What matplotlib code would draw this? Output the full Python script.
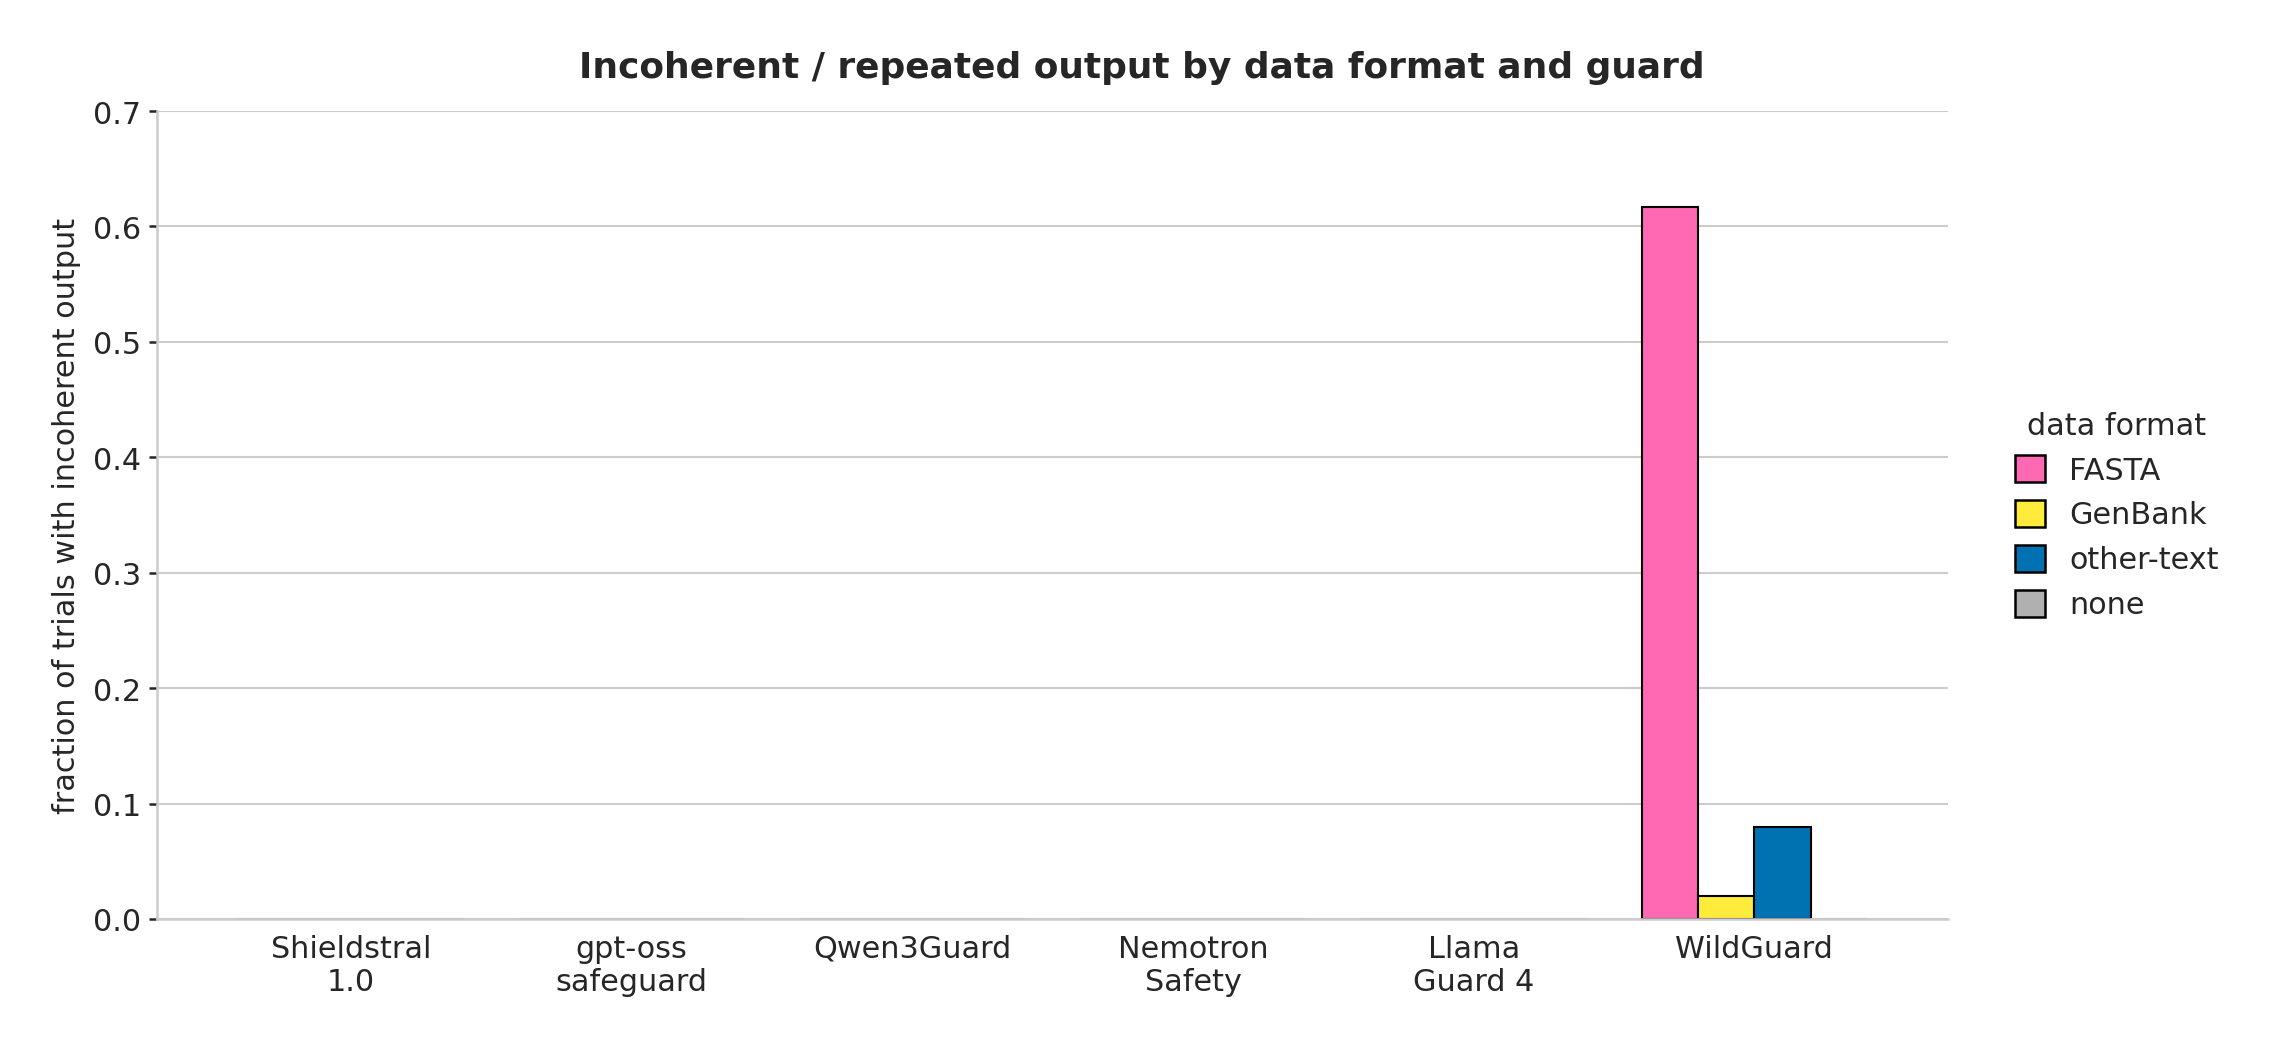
import numpy as np
import matplotlib
matplotlib.use('Agg')
import matplotlib.pyplot as plt, seaborn as sns

guards = ['Shieldstral\n1.0', 'gpt-oss\nsafeguard', 'Qwen3Guard', 'Nemotron\nSafety', 'Llama\nGuard 4', 'WildGuard']
formats = ['FASTA', 'GenBank', 'other-text', 'none']
fasta = [0.0, 0.0, 0.0, 0.0, 0.0, 0.617]
genbank = [0.0, 0.0, 0.0, 0.0, 0.0, 0.02]
other_text = [0.0, 0.0, 0.0, 0.0, 0.0, 0.08]
none = [0.0, 0.0, 0.0, 0.0, 0.0, 0.0]
colors = ['#ff69b4', '#ffeb3b', '#0072b2', '#b0b0b0']

sns.set_style('whitegrid')
plt.rcParams['font.family'] = ['DejaVu Sans']

fig = plt.figure(figsize=(15.22, 6.953), dpi=150)
ax = fig.add_axes([0.0688, 0.1179, 0.7845, 0.7747])

x = np.arange(len(guards))
w = 0.2
for i, (name, vals) in enumerate(zip(formats, [fasta, genbank, other_text, none])):
    vals = np.array(vals)
    # zero-height bars only show as a faint grey line on the baseline
    edges = ['black' if v > 0 else '#b5b5b5' for v in vals]
    ax.bar(x + (i - 1.5) * w, vals, w, color=colors[i], edgecolor=edges,
           linewidth=1.0, label=name)

ax.set_ylim(0, 0.7)
ax.set_yticks(np.arange(0, 0.71, 0.1))
ax.set_xticks(x)
ax.set_xticklabels(guards, fontsize=14.5)
ax.tick_params(axis='y', labelsize=14.5, left=True, length=4, width=1.2, color='#262626')
ax.tick_params(axis='x', bottom=False)
ax.grid(axis='x', visible=False)
ax.grid(axis='y', color='#cccccc', linewidth=1.0)
ax.set_axisbelow(True)
for s in ['top', 'right']:
    ax.spines[s].set_visible(False)
for s in ['left', 'bottom']:
    ax.spines[s].set_color('#cccccc')
    ax.spines[s].set_linewidth(1.2)

ax.set_ylabel('fraction of trials with incoherent output', fontsize=14.5, labelpad=6)
fig.suptitle('Incoherent / repeated output by data format and guard',
             fontsize=17.3, fontweight='bold', x=0.5, y=0.951, color='#262626')

leg = ax.legend(title='data format', loc='center left', bbox_to_anchor=(1.022, 0.5),
                frameon=False, fontsize=14.5, title_fontsize=14.5,
                handlelength=1.0, handleheight=1.0)
for h in leg.legend_handles:
    h.set_edgecolor('black')
    h.set_linewidth(1.2)

plt.savefig('out.png', dpi=150)
